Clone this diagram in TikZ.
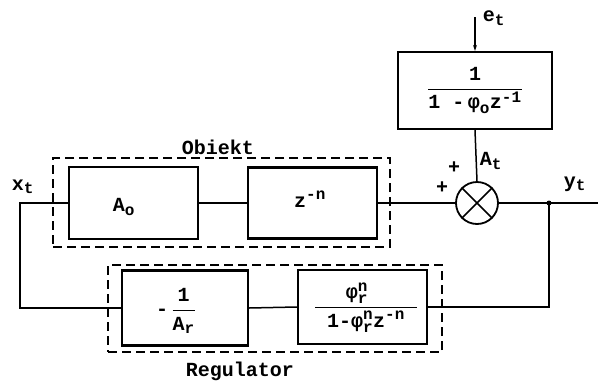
\documentclass[tikz,border=0pt]{standalone}
\usepackage{fontspec}
\usepackage{amsmath}
\setmainfont{Liberation Mono}
\DeclareMathSizes{20}{20}{16}{13}
\usetikzlibrary{arrows.meta}
\newcommand\T[1]{\text{#1}}
\begin{document}
\begin{tikzpicture}[x=1pt,y=-1pt,
  font=\fontsize{20}{22}\selectfont\bfseries,
  blk/.style={draw, line width=2.2pt, inner sep=0pt},
  grp/.style={draw, dash pattern=on 9pt off 5pt, line width=1.5pt, inner sep=0pt},
  conn/.style={line width=1.5pt},
  lbl/.style={inner sep=0pt}]
\useasboundingbox (0,0) rectangle (598,381);
% groups
\node[grp, minimum width=337pt, minimum height=89pt] (gO) at (221.5,202.5) {};
\node[grp, minimum width=334pt, minimum height=87pt] (gR) at (275,308.5) {};
% blocks
\node[blk, minimum width=154pt, minimum height=77pt] (F) at (475,90.5)
  {$\dfrac{\T{1}}{\T{1 -}\,\T{φ}_{\T{o}}\T{z}^{\T{-1}}}$};
\node[blk, minimum width=129pt, minimum height=72pt] (A) at (133.5,203) {};
\node[lbl] (Atxt) at (124,207) {A$_{\T{o}}$};
\node[blk, minimum width=129pt, minimum height=71pt] (Z) at (312.5,203) {};
\node[lbl] (Ztxt) at (310,199) {z$^{\T{-n}}$};
\node[blk, minimum width=126pt, minimum height=75pt] (R1) at (185,308) {};
\node[lbl] (R1txt) at (176,311) {$\T{-}\,\dfrac{\T{1}}{\T{A}_{\T{r}}}$};
\node[blk, minimum width=129pt, minimum height=74pt] (R2) at (362.5,307) {};
\node[lbl, anchor=south] (R2num) at (357,304) {φ$^{\T{n}}_{\T{r}}$};
\node[lbl, anchor=north] (R2den) at (366,311) {1-φ$^{\T{n}}_{\T{r}}$z$^{\T{-n}}$};
\draw[line width=0.9pt] (315,307) -- (417,307);
\node[draw, circle, line width=1.8pt, minimum size=42pt, inner sep=0pt] (S) at (477,203) {};
\draw[line width=1.5pt] (S.north west) -- (S.south east) (S.north east) -- (S.south west);
% coordinates
\coordinate (xt) at (20,203);
\coordinate (J) at (549,203);
\coordinate (out) at (598,203);
\coordinate (et) at (475,17);
% connectors
\draw[conn] (A.west) -- (xt) -- (xt |- R1.west) -- (R1.west);
\draw[conn] (A.east) -- (Z.west);
\draw[conn] (Z.east) -- (S.west);
\draw[conn] (S.east) -- (out);
\draw[conn] (J) -- (J |- R2.east) -- (R2.east);
\draw[conn] (R2.west) -- (R1.east);
\draw[conn] (F.south) -- (S.north);
\draw[conn, -{Stealth[length=6pt,width=4pt]}] (et) -- (F.north);
\fill (J) circle (2.5pt);
% labels
\node[lbl] (lO) at (218,147) {Obiekt};
\node[lbl] (lR) at (240,371) {Regulator};
\node[lbl] (lx) at (23,187) {x$_{\T{t}}$};
\node[lbl] (ly) at (575,184) {y$_{\T{t}}$};
\node[lbl] (le) at (494,18) {e$_{\T{t}}$};
\node[lbl] (la) at (491,161) {A$_{\T{t}}$};
\node[lbl] (p1) at (454,168) {+};
\node[lbl] (p2) at (442,188) {+};
\end{tikzpicture}
\end{document}
